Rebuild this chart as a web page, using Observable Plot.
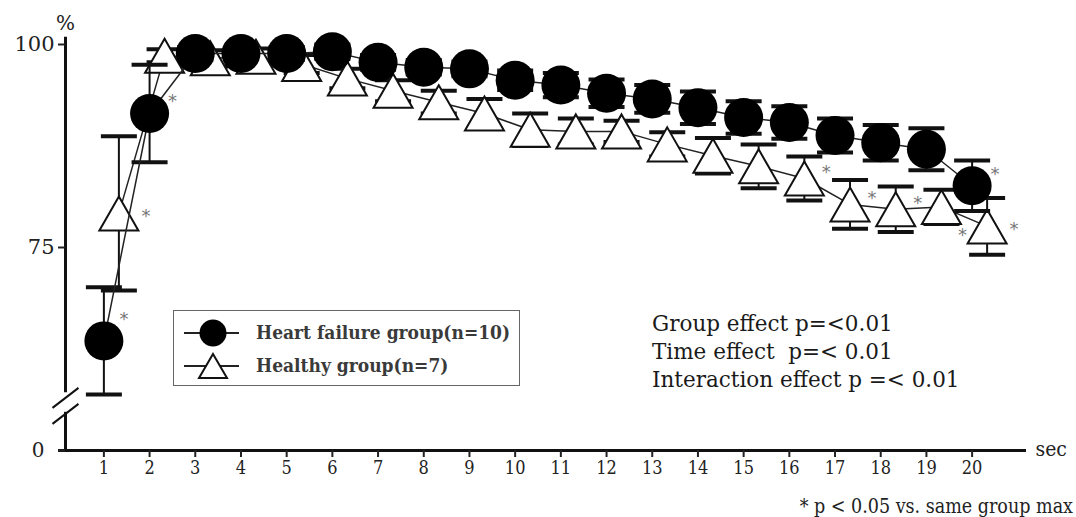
<!DOCTYPE html>
<html><head><meta charset="utf-8">
<script src="https://cdn.jsdelivr.net/npm/d3@7"></script>
<script src="https://cdn.jsdelivr.net/npm/@observablehq/plot@0.6"></script>
<style>
html,body{margin:0;padding:0;background:#fff;}
#wrap{position:relative;width:1076px;height:517px;overflow:hidden;}
#legend{position:absolute;left:173px;top:310px;width:347px;height:76px;border:1.5px solid #666;box-sizing:border-box;}
#legend svg{position:absolute;left:0;top:0;}
#legend .lab{position:absolute;left:82px;font-family:'DejaVu Serif Condensed','DejaVu Serif',serif;font-weight:bold;font-size:19px;color:#3a3a3a;line-height:20px;white-space:nowrap;}
#stats{position:absolute;left:652px;top:310px;font-family:'DejaVu Serif',serif;font-size:21.5px;line-height:28px;color:#1a1a1a;white-space:pre;}
#foot{position:absolute;right:3px;top:497px;height:19px;font-family:'DejaVu Serif Condensed','DejaVu Serif',serif;font-size:19.5px;line-height:19px;color:#222;white-space:nowrap;}
</style></head><body>
<div id="wrap">
<div id="chart"></div>
<div id="legend"></div>
<div id="stats"></div>
<div id="foot"></div>
</div>
<script>
// ---- data ----
const secs = [1,2,3,4,5,6,7,8,9,10,11,12,13,14,15,16,17,18,19,20];
const hfMean = [63.5,91.5,98.9,98.9,98.9,99.1,97.8,97.2,97.0,95.6,95.0,94.0,93.3,92.2,91.0,90.4,88.8,87.9,87.1,82.6];
const hfSem  = [6.6,6.0,0.8,0.7,0.8,0.9,0.9,0.9,0.9,1.2,1.5,1.7,1.7,2.0,2.0,2.0,2.1,2.2,2.6,3.1];
const hMean  = [79.2,98.6,98.3,98.5,97.6,95.8,94.3,92.9,91.5,89.5,89.3,89.3,87.7,86.3,85.0,83.5,80.3,79.7,80.0,77.6];
const hSem   = [9.5,0.8,1.0,1.0,1.1,1.2,1.3,1.4,1.8,2.0,1.6,1.3,1.5,2.2,2.7,2.7,3.0,2.8,2.1,3.5];
const hfStarsUpper = [1];
const hfStarsRight = [2,20];
const hStarsRight = [1,20];
const hStarsUpper = [16,17,18];
const hStarsBelow = [19];
const yTicks = [50,75,100];
const yTickLabels = ["0","75","100"];
const seriesNames = ["Heart failure group(n=10)","Healthy group(n=7)"];
const statsLines = ["Group effect p=<0.01","Time effect  p=< 0.01","Interaction effect p =< 0.01"];
const footnote = "* p < 0.05 vs. same group max";
const xLabel = "sec", yLabel = "%";

// ---- build ----
const hf = secs.map((s,i)=>({sec:s, mean:hfMean[i], lo:hfMean[i]-hfSem[i], hi:hfMean[i]+hfSem[i]}));
const hl = secs.map((s,i)=>({sec:s, mean:hMean[i], lo:hMean[i]-hSem[i], hi:hMean[i]+hSem[i]}));
const pick = (arr, ss) => arr.filter(d => ss.includes(d.sec));

const xDomain = [0.16, 21.19];
const xMin = xDomain[0];
const axisSegs = [{y1:57.1, y2:100.9},{y1:50, y2:54.7}];
const breakAt = [55.5];

const capSym = {draw(c){c.rect(-18,-2,36,4);}};
const triSym = {draw(c){c.moveTo(0,-17);c.lineTo(19.5,17);c.lineTo(-19.5,17);c.closePath();}};
const breakSym = {draw(c){c.moveTo(-13,2);c.lineTo(13,-18);c.moveTo(-13,18);c.lineTo(13,-2);}};

const OFF = 15; // horizontal offset of healthy group
const starFont = "'DejaVu Sans',sans-serif";
const star = (data, dx, dy) => Plot.text(data, {x:"sec", y:"mean", text:()=>"*", dx, dy, fill:"#777", fontSize:18, fontFamily:starFont});

const errMarks = (data, dx) => [
  Plot.ruleX(data, {x:"sec", y1:"lo", y2:"hi", stroke:"#111", strokeWidth:2, dx}),
  Plot.dot(data, {x:"sec", y:"hi", symbol:capSym, fill:"#111", stroke:"none", dx}),
  Plot.dot(data, {x:"sec", y:"lo", symbol:capSym, fill:"#111", stroke:"none", dx})
];
const yLab = d => yTickLabels[yTicks.indexOf(d)];

const chart = Plot.plot({
  width:1076, height:490,
  marginLeft:65, marginRight:50, marginTop:44, marginBottom:40,
  x:{domain:xDomain},
  y:{domain:[50,100]},
  style:{fontFamily:"'DejaVu Serif Condensed','DejaVu Serif',serif", fontSize:"18px", color:"#222", background:"#fff", overflow:"visible"},
  marks:[
    Plot.ruleY([50], {strokeWidth:3, stroke:"#111", insetLeft:-7}),
    Plot.ruleX(axisSegs, {x:xMin, y1:"y1", y2:"y2", strokeWidth:3, stroke:"#111"}),
    Plot.dot(breakAt, {x:xMin, y:d=>d, symbol:breakSym, stroke:"#111", strokeWidth:2, fill:"none"}),
    Plot.axisX({ticks:secs, tickSize:7, tickPadding:4, tickFormat:d=>String(d), label:null, strokeWidth:2, fontSize:18}),
    Plot.axisY({ticks:yTicks.slice(1), tickSize:7, tickPadding:4, tickFormat:yLab, label:null, strokeWidth:2, fontSize:21, fontFamily:"'DejaVu Serif',serif"}),
    Plot.axisY({ticks:yTicks.slice(0,1), tickSize:7, tickPadding:14, tickFormat:yLab, label:null, strokeWidth:2, fontSize:20, fontFamily:"'DejaVu Serif',serif"}),
    Plot.text([xLabel], {frameAnchor:"bottom-right", textAnchor:"start", dx:9, dy:5, fontSize:21}),
    Plot.text([yLabel], {frameAnchor:"top-left", textAnchor:"middle", lineAnchor:"middle", dy:-21, fontSize:20, fontFamily:"'DejaVu Serif',serif"}),
    // healthy group
    ...errMarks(hl, OFF),
    Plot.line(hl, {x:"sec", y:"mean", stroke:"#222", strokeWidth:1.5, dx:OFF}),
    Plot.dot(hl, {x:"sec", y:"mean", symbol:triSym, fill:"white", stroke:"#111", strokeWidth:2, dx:OFF}),
    // heart failure group
    ...errMarks(hf, 0),
    Plot.line(hf, {x:"sec", y:"mean", stroke:"#222", strokeWidth:1.5}),
    Plot.dot(hf, {x:"sec", y:"mean", r:19.5, fill:"#000", stroke:"none"}),
    // significance marks
    star(pick(hf, hfStarsUpper), 20, -22),
    star(pick(hf, hfStarsRight), 23, -12),
    star(pick(hl, hStarsRight), OFF+27, 3),
    star(pick(hl, hStarsUpper), OFF+22, -6),
    star(pick(hl, hStarsBelow), OFF+21, 28)
  ]
});
document.getElementById("chart").append(chart);

// legend
const lg = document.getElementById("legend");
lg.innerHTML = `<svg width="347" height="76">
<line x1="10" x2="65" y1="22" y2="22" stroke="#222" stroke-width="2"/>
<circle cx="39" cy="22" r="13.5" fill="#000"/>
<line x1="10" x2="65" y1="55" y2="55" stroke="#222" stroke-width="2"/>
<path d="M39,43 L53,67 L25,67 Z" fill="#fff" stroke="#111" stroke-width="2"/>
</svg>`;
seriesNames.forEach((n,i)=>{
  const d = document.createElement("div");
  d.className = "lab"; d.textContent = n;
  d.style.top = (i===0 ? 11 : 44) + "px";
  lg.appendChild(d);
});
document.getElementById("stats").textContent = statsLines.join("\n");
document.getElementById("foot").textContent = footnote;
</script>
</body></html>
